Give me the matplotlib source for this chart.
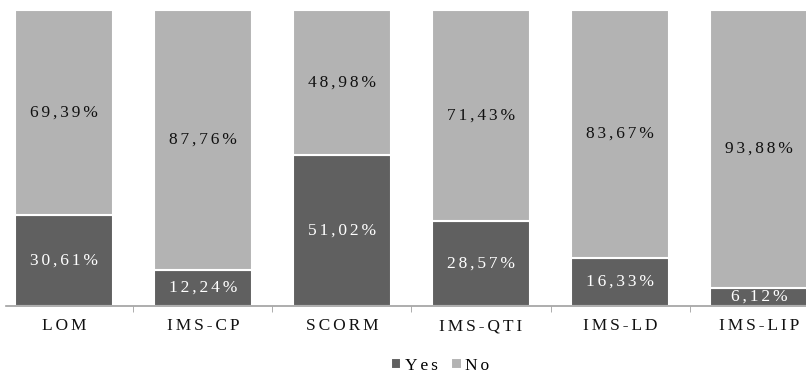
import matplotlib
matplotlib.use('Agg')
import matplotlib.pyplot as plt
import numpy as np

categories = ['LOM', 'IMS-CP', 'SCORM', 'IMS-QTI', 'IMS-LD', 'IMS-LIP']
yes = [30.61, 12.24, 51.02, 28.57, 16.33, 6.12]
no = [69.39, 87.76, 48.98, 71.43, 83.67, 93.88]

dark = '#606060'
light = '#b3b3b3'
font = ['Liberation Serif', 'DejaVu Serif']

def spaced(s):
    # the reference text is stretched wide, so pad letters with a small space
    return '\u2006'.join(s)

def fmt(v):
    return spaced(('%.2f%%' % v).replace('.', ','))

fig = plt.figure(figsize=(8.06, 3.76), dpi=100)
ax = fig.add_axes([6/806, 1 - 306/376, 1 - 6/806, 296/376])

x = np.arange(len(categories))
w = 0.71
b1 = ax.bar(x, yes, w, color=dark, edgecolor='white', linewidth=1.5, label='Yes')
b2 = ax.bar(x, no, w, bottom=yes, color=light, edgecolor='white', linewidth=1.5, label='No')

for i in range(len(categories)):
    ax.text(x[i], yes[i] / 2, fmt(yes[i]), ha='center', va='center',
            color='white', fontsize=12.5, family=font)
    ax.text(x[i], yes[i] + no[i] / 2, fmt(no[i]), ha='center', va='center',
            color='#111111', fontsize=12.5, family=font)

ax.set_xlim(-0.417, 5.338)
ax.set_ylim(0, 100)
ax.set_yticks([])
for s in ['top', 'right', 'left']:
    ax.spines[s].set_visible(False)
ax.spines['bottom'].set_color('#a0a0a0')
ax.spines['bottom'].set_linewidth(1.2)

ax.set_xticks(x)
ax.set_xticklabels([spaced(c) for c in categories], family=font, fontsize=12.5,
                   color='#111111')
ax.tick_params(axis='x', which='major', length=0, pad=9)
ax.set_xticks(x[:-1] + 0.5, minor=True)
ax.tick_params(axis='x', which='minor', length=4, color='#a0a0a0', direction='out')

fig.legend(handles=[b1, b2], labels=[spaced('Yes'), spaced('No')], loc='center',
           bbox_to_anchor=(440/806, 1 - 366/376), ncol=2, frameon=False,
           prop={'family': font, 'size': 12.5},
           handlelength=0.6, handleheight=0.6, handletextpad=0.2, columnspacing=0.8)

fig.savefig('out.png', dpi=100)
